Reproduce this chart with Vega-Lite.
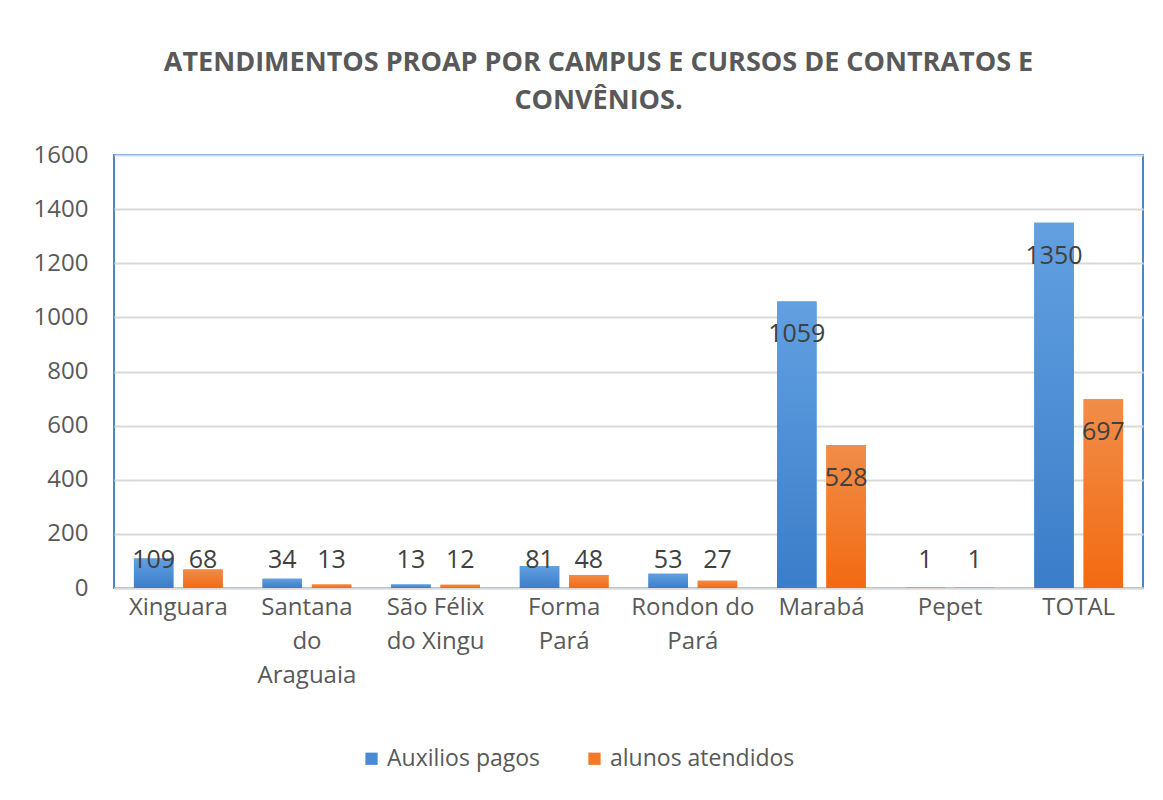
{
  "$schema": "https://vega.github.io/schema/vega-lite/v6.json",
  "width": 1029,
  "height": 433,
  "autosize": {"type": "none"},
  "padding": {"left": 114, "top": 155, "right": 20, "bottom": 212},
  "background": "white",
  "config": {
    "font": "Open Sans",
    "view": {"stroke": "#4a86c5", "strokeWidth": 2}
  },
  "title": {
    "text": ["ATENDIMENTOS PROAP POR CAMPUS E CURSOS DE CONTRATOS E", "CONVÊNIOS."],
    "fontSize": 27,
    "fontWeight": "bold",
    "color": "#595959",
    "font": "Open Sans",
    "anchor": "middle",
    "dx": -30,
    "lineHeight": 38,
    "offset": 28
  },
  "data": {
    "values": [
      {"campus": "Xinguara", "serie": "Auxilios pagos", "valor": 109},
      {"campus": "Xinguara", "serie": "alunos atendidos", "valor": 68},
      {"campus": "Santana do Araguaia", "serie": "Auxilios pagos", "valor": 34},
      {"campus": "Santana do Araguaia", "serie": "alunos atendidos", "valor": 13},
      {"campus": "São Félix do Xingu", "serie": "Auxilios pagos", "valor": 13},
      {"campus": "São Félix do Xingu", "serie": "alunos atendidos", "valor": 12},
      {"campus": "Forma Pará", "serie": "Auxilios pagos", "valor": 81},
      {"campus": "Forma Pará", "serie": "alunos atendidos", "valor": 48},
      {"campus": "Rondon do Pará", "serie": "Auxilios pagos", "valor": 53},
      {"campus": "Rondon do Pará", "serie": "alunos atendidos", "valor": 27},
      {"campus": "Marabá", "serie": "Auxilios pagos", "valor": 1059},
      {"campus": "Marabá", "serie": "alunos atendidos", "valor": 528},
      {"campus": "Pepet", "serie": "Auxilios pagos", "valor": 1},
      {"campus": "Pepet", "serie": "alunos atendidos", "valor": 1},
      {"campus": "TOTAL", "serie": "Auxilios pagos", "valor": 1350},
      {"campus": "TOTAL", "serie": "alunos atendidos", "valor": 697}
    ]
  },
  "encoding": {
    "x": {
      "field": "campus",
      "type": "nominal",
      "sort": null,
      "scale": {"paddingInner": 0.31, "paddingOuter": 0.155},
      "axis": {
        "title": null,
        "labelAngle": 0,
        "ticks": false,
        "domainColor": "#d9d9d9",
        "domainWidth": 2,
        "labelFontSize": 24,
        "labelColor": "#595959",
        "labelPadding": 7,
        "labelLineHeight": 34,
        "labelBaseline": "top",
        "labelLimit": 300,
        "labelExpr": "datum.value == 'Santana do Araguaia' ? ['Santana','do','Araguaia'] : datum.value == 'São Félix do Xingu' ? ['São Félix','do Xingu'] : datum.value == 'Forma Pará' ? ['Forma','Pará'] : datum.value == 'Rondon do Pará' ? ['Rondon do','Pará'] : datum.value"
      }
    },
    "xOffset": {
      "field": "serie",
      "type": "nominal",
      "sort": ["Auxilios pagos", "alunos atendidos"],
      "scale": {"paddingInner": 0.2, "paddingOuter": 0}
    },
    "y": {
      "field": "valor",
      "type": "quantitative",
      "scale": {"domain": [0, 1600], "nice": false},
      "axis": {
        "title": null,
        "format": "d",
        "values": [0, 200, 400, 600, 800, 1000, 1200, 1400, 1600],
        "grid": true,
        "gridColor": "#d9d9d9",
        "gridWidth": 2,
        "domain": false,
        "ticks": false,
        "labelFontSize": 24,
        "labelColor": "#595959",
        "labelPadding": 26
      }
    }
  },
  "layer": [
    {
      "mark": {"type": "bar"},
      "encoding": {
        "color": {
          "field": "serie",
          "type": "nominal",
          "sort": ["Auxilios pagos", "alunos atendidos"],
          "scale": {"domain": ["Auxilios pagos", "alunos atendidos"], "range": ["#4a8ad4", "#f27a26"]},
          "legend": {
            "title": null,
            "orient": "none",
            "direction": "horizontal",
            "legendX": 246,
            "legendY": 592,
            "symbolType": "square",
            "symbolSize": 150,
            "symbolStrokeWidth": 0,
            "labelFontSize": 23,
            "labelColor": "#595959",
            "labelOffset": 4,
            "labelLimit": 400,
            "columnPadding": 42,
            "padding": 0
          }
        }
      }
    },
    {
      "transform": [{"filter": "datum.serie == 'Auxilios pagos'"}],
      "mark": {
        "type": "bar",
        "color": {
          "gradient": "linear", "x1": 0, "y1": 0, "x2": 0, "y2": 1,
          "stops": [{"offset": 0, "color": "#62a0e0"}, {"offset": 1, "color": "#3b7dc9"}]
        }
      }
    },
    {
      "transform": [{"filter": "datum.serie == 'alunos atendidos'"}],
      "mark": {
        "type": "bar",
        "color": {
          "gradient": "linear", "x1": 0, "y1": 0, "x2": 0, "y2": 1,
          "stops": [{"offset": 0, "color": "#f08d4a"}, {"offset": 1, "color": "#f26a12"}]
        }
      }
    },
    {
      "transform": [{"filter": "datum.valor >= 200"}],
      "mark": {"type": "text", "baseline": "middle", "dy": 33, "fontSize": 25, "color": "#404040"},
      "encoding": {"text": {"field": "valor", "type": "quantitative"}}
    },
    {
      "transform": [{"filter": "datum.valor < 200"}],
      "mark": {"type": "text", "baseline": "middle", "fontSize": 25, "color": "#404040"},
      "encoding": {
        "y": {"datum": 103},
        "text": {"field": "valor", "type": "quantitative"}
      }
    }
  ]
}
